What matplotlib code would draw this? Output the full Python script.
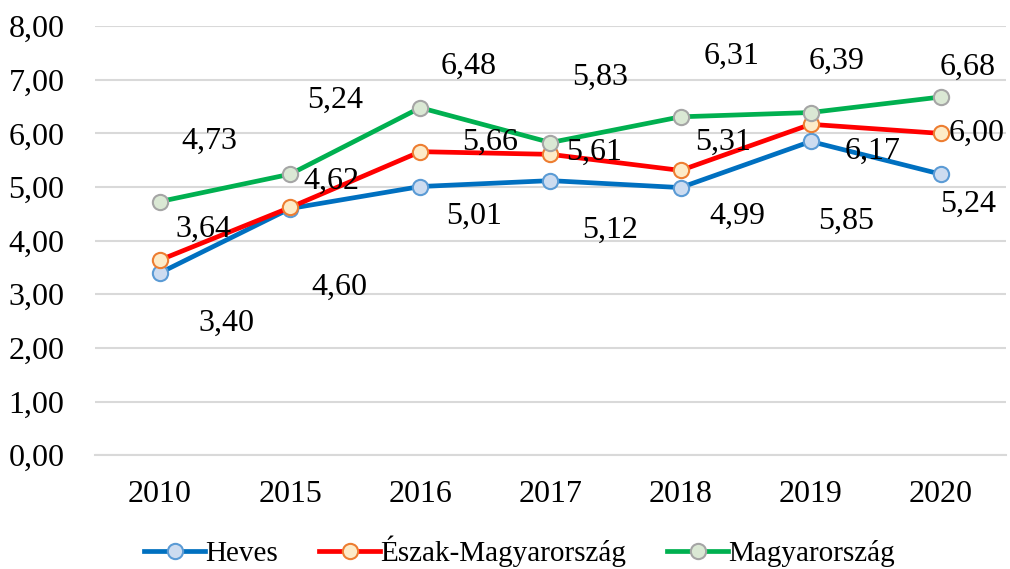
import matplotlib
matplotlib.use("Agg")
import matplotlib.pyplot as plt

plt.rcParams['font.family'] = ['Liberation Serif', 'DejaVu Serif']

# adatok
years = ['2010', '2015', '2016', '2017', '2018', '2019', '2020']
heves = [3.40, 4.60, 5.01, 5.12, 4.99, 5.85, 5.24]
eszak = [3.64, 4.62, 5.66, 5.61, 5.31, 6.17, 6.00]
magyar = [4.73, 5.24, 6.48, 5.83, 6.31, 6.39, 6.68]
y_ticks = [0, 1, 2, 3, 4, 5, 6, 7, 8]

# címkék eltolása pixelben (x jobbra, y lefelé)
off_heves = [(66, 50), (49, 79), (54, 30), (60, 50), (57, 29), (35, 80), (27, 30)]
off_eszak = [(43, -31), (41, -26), (70, -9), (44, -2), (42, -28), (62, 27), (36, 0)]
off_magyar = [(49, -60), (45, -74), (48, -41), (50, -65), (51, -60), (26, -51), (27, -30)]

series = [
    ('Heves', heves, '#0070c0', '#cddcf0', '#5b9bd5', off_heves),
    ('Észak-Magyarország', eszak, '#ff0000', '#fdebc8', '#ed7d31', off_eszak),
    ('Magyarország', magyar, '#00b050', '#dae8d4', '#a5a5a5', off_magyar),
]

fig = plt.figure(figsize=(10.1, 5.69), dpi=100)
ax = fig.add_axes([0.094, 0.2, 0.902, 0.754])

x = list(range(len(years)))
for name, vals, lc, fc, ec, offs in series:
    ax.plot(x, vals, color=lc, lw=3.4, marker='o', markersize=11,
            markerfacecolor=fc, markeredgecolor=ec, markeredgewidth=1.5,
            label=name, zorder=3)
    for i, v in enumerate(vals):
        dx, dy = offs[i]
        ax.annotate(f"{v:.2f}".replace('.', ','), (x[i], v),
                    textcoords='offset pixels', xytext=(dx, -dy),
                    ha='center', va='center', fontsize=23, zorder=4)

ax.set_xlim(-0.5, len(years) - 0.5)
ax.set_ylim(0, 8)
ax.set_yticks(y_ticks)
ax.set_yticklabels([f"{t:.2f}".replace('.', ',') for t in y_ticks])
ax.set_xticks(x)
ax.set_xticklabels(years)
ax.tick_params(labelsize=23, length=0)
ax.tick_params(axis='x', pad=18)
ax.tick_params(axis='y', pad=22)
ax.grid(axis='y', color='#d9d9d9', lw=1.5)
ax.set_axisbelow(True)
for s in ['top', 'right', 'left']:
    ax.spines[s].set_visible(False)
ax.spines['bottom'].set_color('#d9d9d9')
ax.spines['bottom'].set_linewidth(1.5)

ax.legend(loc='center', bbox_to_anchor=(0.466, -0.225), ncol=3, frameon=False,
          fontsize=21, handlelength=2.1, handletextpad=0.0, columnspacing=1.4)

fig.savefig('out.png', dpi=100)
